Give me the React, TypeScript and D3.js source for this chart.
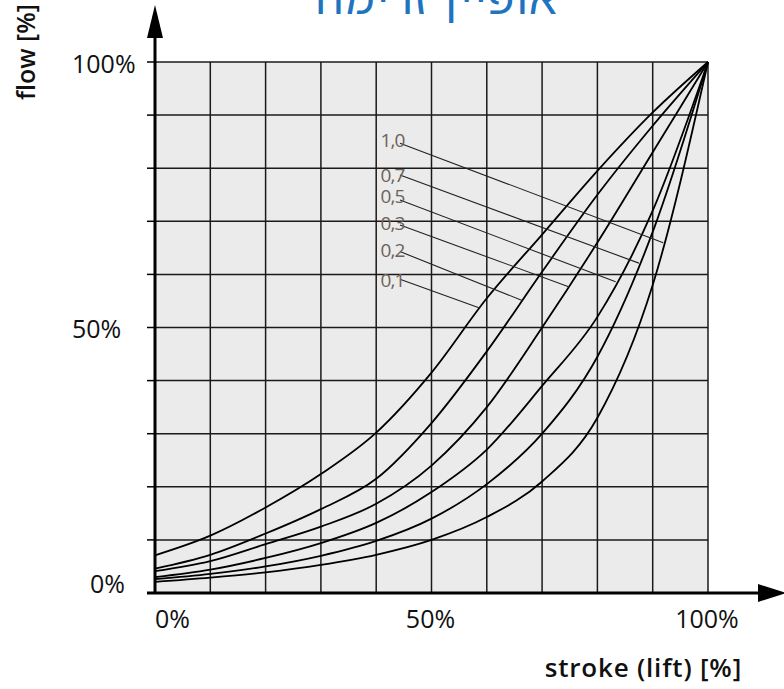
import React from "react";
import * as d3 from "d3";

// Stroke (lift) positions in percent, shared by every curve
const lifts = [0, 10, 20, 30, 40, 50, 60, 70, 80, 90, 100];

// Installed flow characteristics [% flow] for each valve authority
const authorities = ["0,1", "0,2", "0,3", "0,5", "0,7", "1,0"];
const flowA01 = [7.1, 10.8, 16.1, 22.4, 30.2, 41.5, 55.5, 67.5, 79.5, 90.5, 100];
const flowA02 = [4.6, 7.2, 11.2, 15.8, 21.5, 32, 45.5, 60.5, 75, 88, 100];
const flowA03 = [4.1, 6.0, 9.2, 12.5, 16.8, 24, 35, 50, 66, 83, 100];
const flowA05 = [3.0, 4.4, 6.6, 9.4, 13.2, 19, 27, 39, 52, 72, 100];
const flowA07 = [2.6, 3.6, 5.0, 7.0, 9.8, 14, 20.5, 30, 44.5, 68, 100];
const flowA10 = [2.1, 2.9, 3.9, 5.3, 7.2, 10, 14.3, 21, 33, 58, 100];
const flowSeries = [flowA01, flowA02, flowA03, flowA05, flowA07, flowA10];

// Callout labels: text anchor, leader start and the lift where the leader meets its curve
const labelX = [40.8, 40.8, 40.8, 40.8, 40.8, 40.8];
const labelY = [57.6, 63.3, 68.3, 73.4, 77.4, 84.0];
const leaderStartX = [44.3, 44.3, 44.3, 44.3, 44.3, 44.3];
const leaderStartY = [59.1, 64.3, 69.3, 74.0, 78.7, 84.7];
const leaderEndLift = [58.7, 66.4, 74.8, 83.3, 87.5, 91.9];

// Axis tick labels
const yTicks = [0, 50, 100];
const yTickLabels = ["0%", "50%", "100%"];
const xTicks = [0, 50, 100];
const xTickLabels = ["0%", "50%", "100%"];
const gridSteps = [0, 10, 20, 30, 40, 50, 60, 70, 80, 90, 100];

const title = "אופיין זרימה";
const xTitle = "stroke (lift) [%]";
const yTitle = "flow [%]";

const W = 784;
const H = 689;
const FONT = "'Open Sans', 'Noto Sans', sans-serif";

export default function App() {
  const x = d3.scaleLinear().domain([0, 100]).range([155, 708]);
  const y = d3.scaleLinear().domain([0, 100]).range([593, 62]);

  const line = d3
    .line<number>()
    .x((_, i) => x(lifts[i]))
    .y((d) => y(d))
    .curve(d3.curveMonotoneX);

  const axisX = x(0);
  const axisY = y(0);

  // y tick label placement (left edge of text)
  const yLabelLeft: Record<string, number> = { "0%": 90, "50%": 72, "100%": 72 };
  const yLabelShift: Record<string, number> = { "0%": -10, "50%": 0, "100%": 1 };

  return (
    <svg width={W} height={H} style={{ display: "block", position: "absolute", left: 0, top: 0 }}>
      <rect x={0} y={0} width={W} height={H} fill="#ffffff" />

      {/* title, partly above the frame */}
      <text
        x={437}
        y={14}
        textAnchor="middle"
        fontFamily="'Noto Sans Hebrew', 'Liberation Sans', 'DejaVu Sans', sans-serif"
        fontSize={45}
        letterSpacing={1}
        fill="#1f74bf"
      >
        {title}
      </text>

      {/* plot background */}
      <rect x={x(0)} y={y(100)} width={x(100) - x(0)} height={y(0) - y(100)} fill="#ebebeb" />

      {/* grid */}
      <g stroke="#1a1a1a" strokeWidth={1.5}>
        {gridSteps.map((g) => (
          <line key={"v" + g} x1={x(g)} x2={x(g)} y1={y(0)} y2={y(100)} />
        ))}
        {gridSteps.map((g) => (
          <line key={"h" + g} x1={x(0)} x2={x(100)} y1={y(g)} y2={y(g)} />
        ))}
      </g>

      {/* y-axis ticks */}
      <g stroke="#000" strokeWidth={1.5}>
        {gridSteps.map((g) => (
          <line key={"t" + g} x1={axisX - 8} x2={axisX} y1={y(g)} y2={y(g)} />
        ))}
      </g>

      {/* curves */}
      <g fill="none" stroke="#000" strokeWidth={1.8}>
        {flowSeries.map((s, i) => (
          <path key={authorities[i]} d={line(s) || ""} />
        ))}
      </g>

      {/* callouts */}
      {authorities.map((a, i) => {
        const endFlow = d3.scaleLinear().domain(lifts).range(flowSeries[i])(leaderEndLift[i]);
        return (
          <g key={"lab" + a}>
            <line
              x1={x(leaderStartX[i])}
              y1={y(leaderStartY[i])}
              x2={x(leaderEndLift[i])}
              y2={y(endFlow)}
              stroke="#222"
              strokeWidth={1.1}
            />
            <text
              x={x(labelX[i])}
              y={y(labelY[i])}
              fontFamily={FONT}
              fontSize={19}
              letterSpacing={-1}
              fill="#6e6258"
            >
              {a}
            </text>
          </g>
        );
      })}

      {/* axes with arrowheads */}
      <line x1={axisX} x2={axisX} y1={axisY + 1} y2={30} stroke="#000" strokeWidth={3} />
      <path d={`M${axisX},5 L${axisX - 8},38 L${axisX + 8},38 Z`} fill="#000" />
      <line x1={axisX - 8} x2={762} y1={axisY} y2={axisY} stroke="#000" strokeWidth={3} />
      <path d={`M${W + 2},${axisY} L${758},${axisY - 9} L${758},${axisY + 9} Z`} fill="#000" />

      {/* y tick labels */}
      {yTicks.map((t, i) => (
        <text
          key={"yl" + t}
          x={yLabelLeft[yTickLabels[i]]}
          y={y(t) + yLabelShift[yTickLabels[i]]}
          dominantBaseline="central"
          fontFamily={FONT}
          fontSize={25}
          fill="#111"
        >
          {yTickLabels[i]}
        </text>
      ))}

      {/* x tick labels */}
      {xTicks.map((t, i) => (
        <text
          key={"xl" + t}
          x={t === 0 ? x(t) : x(t) - 1}
          y={628}
          textAnchor={t === 0 ? "start" : "middle"}
          fontFamily={FONT}
          fontSize={25}
          fill="#111"
        >
          {xTickLabels[i]}
        </text>
      ))}

      {/* axis titles */}
      <text
        x={742}
        y={677}
        textAnchor="end"
        fontFamily={FONT}
        fontSize={26}
        letterSpacing={0.8}
        fontWeight={600}
        fill="#111"
      >
        {xTitle}
      </text>
      <text
        transform="translate(35,52) rotate(-90)"
        textAnchor="middle"
        fontFamily={FONT}
        fontSize={25}
        fontWeight={600}
        fill="#111"
      >
        {yTitle}
      </text>
    </svg>
  );
}
